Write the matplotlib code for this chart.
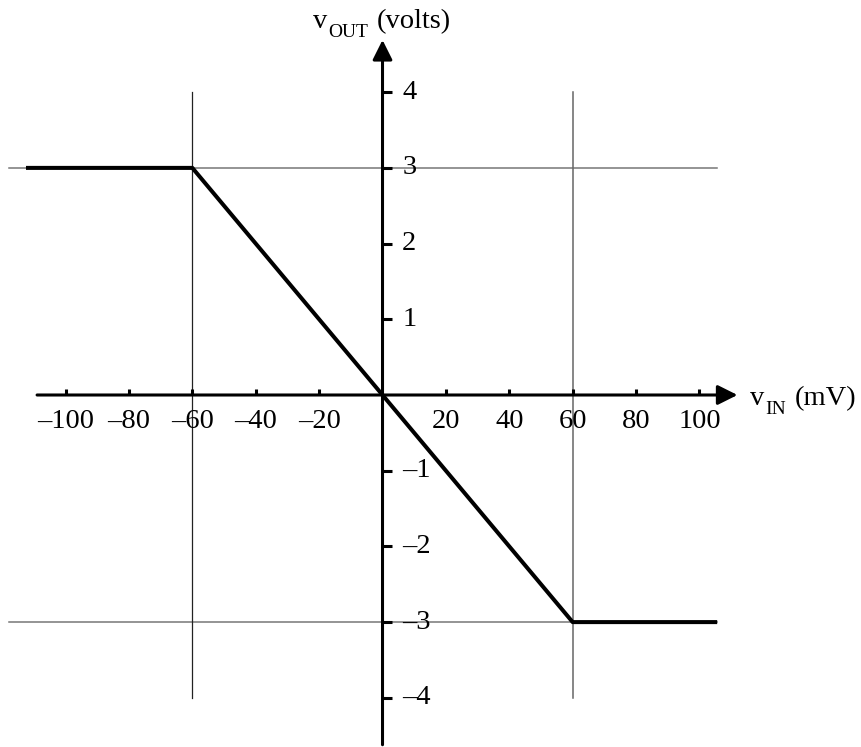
import matplotlib
matplotlib.use("Agg")
import matplotlib.pyplot as plt

plt.rcParams['font.family'] = ['Liberation Serif', 'DejaVu Serif']

# transfer curve (mV in, volts out)
vin = [-112.5, -60, 60, 105.6]
vout = [3, 3, -3, -3]

x_ticks = [-100, -80, -60, -40, -20, 20, 40, 60, 80, 100]
y_ticks = [-4, -3, -2, -1, 1, 2, 3, 4]

# guide lines
hguides = [3, -3]
vguides = [-60, 60]

fig = plt.figure(figsize=(8.62, 7.47), dpi=100)
ax = fig.add_axes([0, 0, 1, 1])
ax.set_xlim(-120.7, 151.3)
ax.set_ylim(-4.65, 5.218)
ax.axis("off")

# thin gray guides
for h in hguides:
    ax.plot([-118, 105.6], [h, h], color="#777777", lw=1.1, zorder=1)
ax.plot([vguides[0]] * 2, [-4, 4], color="#222222", lw=0.9, zorder=1)
ax.plot([vguides[1]] * 2, [-4, 4], color="#666666", lw=1.1, zorder=1)

# axes with arrows
arrow = dict(arrowstyle="-|>,head_length=0.6,head_width=0.3", mutation_scale=20,
             lw=2.2, color="black", shrinkA=0, shrinkB=0)
ax.annotate("", xy=(112, 0), xytext=(-109, 0), arrowprops=arrow, zorder=3)
ax.annotate("", xy=(0, 4.69), xytext=(0, -4.62), arrowprops=arrow, zorder=3)

# ticks
ax.vlines(x_ticks, 0, 0.085, color="black", lw=2.2, zorder=3)
ax.hlines(y_ticks, 0, 3.0, color="black", lw=2.2, zorder=3)

fs = 20.5
for t in x_ticks:
    lab = str(t).replace("-", "\u2013")
    ax.text(t, -0.19, lab, ha="center", va="top", fontsize=fs)
for t in y_ticks:
    lab = str(t).replace("-", "\u2013")
    ax.text(6.2, t, lab, ha="left", va="center", fontsize=fs)

# the curve
ax.plot(vin, vout, color="black", lw=2.9, solid_capstyle="butt", zorder=4)

# axis names, subscript set by hand
ax.text(-21.9, 4.844, "v", ha="left", va="baseline", fontsize=fs)
ax.text(-17.2, 4.725, "OUT", ha="left", va="baseline", fontsize=14)
ax.text(-1.7, 4.844, "(volts)", ha="left", va="baseline", fontsize=fs)

ax.text(115.9, -0.132, "v", ha="left", va="baseline", fontsize=fs)
ax.text(120.7, -0.251, "IN", ha="left", va="baseline", fontsize=14)
ax.text(130.1, -0.132, "(mV)", ha="left", va="baseline", fontsize=fs)

fig.savefig("out.png", dpi=100)
